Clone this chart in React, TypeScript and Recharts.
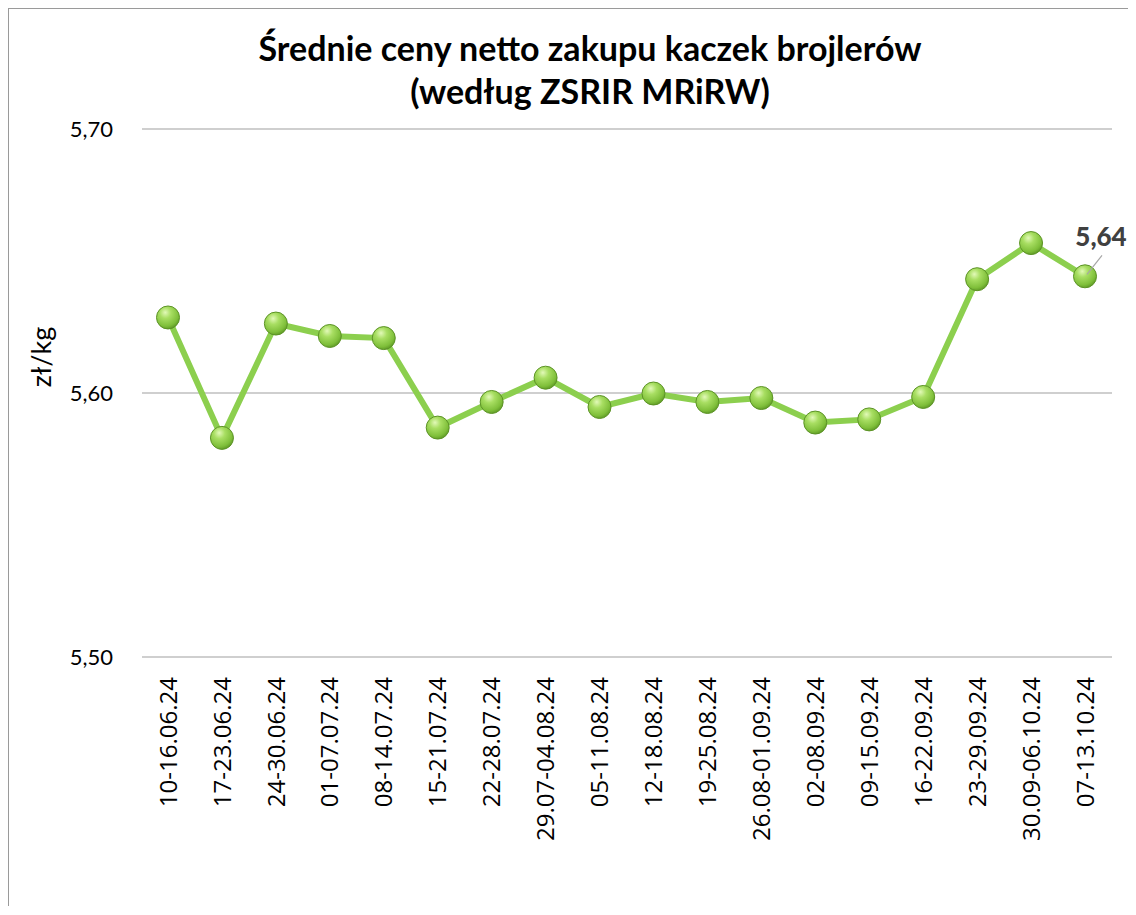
import React from 'react';
import { LineChart, Line, XAxis, YAxis, CartesianGrid } from 'recharts';

const weeks = [
  '10-16.06.24', '17-23.06.24', '24-30.06.24', '01-07.07.24', '08-14.07.24', '15-21.07.24',
  '22-28.07.24', '29.07-04.08.24', '05-11.08.24', '12-18.08.24', '19-25.08.24', '26.08-01.09.24',
  '02-08.09.24', '09-15.09.24', '16-22.09.24', '23-29.09.24', '30.09-06.10.24', '07-13.10.24',
];
const prices = [
  5.6286, 5.583, 5.6263, 5.6216, 5.6208, 5.5869, 5.5966, 5.6058, 5.5947,
  5.5998, 5.5966, 5.5981, 5.5888, 5.59, 5.5985, 5.6431, 5.6568, 5.6442,
];
const yTicks = [5.5, 5.6, 5.7];
const titleLines = ['Średnie ceny netto zakupu kaczek brojlerów', '(według ZSRIR MRiRW)'];
const unitLabel = 'zł/kg';

const data = weeks.map((w, i) => ({ week: w, price: prices[i] }));
const fmt = (v: number) => v.toFixed(2).replace('.', ',');

const XTick = (props: any) => {
  const { x, y, payload } = props;
  const ty = y + 12;
  return (
    <text
      x={x}
      y={ty}
      transform={`rotate(-90, ${x}, ${ty})`}
      textAnchor="end"
      dy="0.36em"
      fontFamily="'Open Sans', sans-serif"
      fontSize={24}
      fill="#000"
    >
      {payload.value}
    </text>
  );
};

const Dot = (props: any) => {
  const { cx, cy, index } = props;
  if (cx == null || cy == null) return null;
  const id = `dg${index}`;
  return (
    <g key={id}>
      <defs>
        <radialGradient id={id} cx="40%" cy="32%" r="70%" fx="38%" fy="28%">
          <stop offset="0%" stopColor="#e2f9b8" />
          <stop offset="35%" stopColor="#a8de62" />
          <stop offset="80%" stopColor="#7fbf3a" />
          <stop offset="100%" stopColor="#5f9a26" />
        </radialGradient>
      </defs>
      <circle cx={cx} cy={cy} r={11.5} fill={`url(#${id})`} stroke="#5c9326" strokeWidth={1} />
    </g>
  );
};

const LastLabel = (props: any) => {
  const { x, y, index, value } = props;
  if (index !== prices.length - 1) return null;
  return (
    <g>
      <line x1={x + 17} y1={y - 21} x2={x + 2} y2={y - 2} stroke="#a6a6a6" strokeWidth={1.2} />
      <text
        x={x + 16}
        y={y - 30}
        textAnchor="middle"
        fontFamily="Lato, sans-serif"
        fontWeight={900}
        fontSize={26}
        fill="#404040"
      >
        {fmt(value)}
      </text>
    </g>
  );
};

const YLabel = (props: any) => {
  const vb = props.viewBox || {};
  const x = vb.x - 40;
  const y = vb.y + vb.height / 2 - 36;
  return (
    <text
      x={x}
      y={y}
      transform={`rotate(-90, ${x}, ${y})`}
      textAnchor="middle"
      dy="0.35em"
      fontFamily="Lato, sans-serif"
      fontWeight={400}
      fontSize={27}
      fill="#000"
    >
      {unitLabel}
    </text>
  );
};

export default function App() {
  return (
    <div
      style={{
        position: 'relative',
        width: 1129,
        height: 899,
        marginLeft: -1,
        marginTop: -1,
        borderLeft: '2px solid #9a9a9a',
        borderTop: '2px solid #9a9a9a',
        boxSizing: 'border-box',
        overflow: 'hidden',
        background: '#fff',
      }}
    >
      <LineChart
        width={1127}
        height={897}
        data={data}
        margin={{ top: 120, right: 24, bottom: 49, left: 73 }}
      >
        <CartesianGrid vertical={false} stroke="#bfbfbf" strokeWidth={1.3} />
        <XAxis
          dataKey="week"
          axisLine={false}
          tickLine={false}
          interval={0}
          height={200}
          padding={{ left: 26, right: 27 }}
          tick={<XTick />}
        />
        <YAxis
          domain={[5.5, 5.7]}
          ticks={yTicks}
          width={60}
          axisLine={false}
          tickLine={false}
          tickSize={6}
          tickMargin={23}
          tickFormatter={fmt}
          tick={{ fontFamily: 'Lato, sans-serif', fontSize: 22, fill: '#000' }}
          label={<YLabel />}
        />
        <Line
          type="linear"
          dataKey="price"
          stroke="#8ccf4e"
          strokeWidth={6}
          dot={<Dot />}
          activeDot={false}
          isAnimationActive={false}
          label={<LastLabel />}
        />
      </LineChart>
      <svg
        width={1127}
        height={130}
        style={{ position: 'absolute', left: 0, top: 0, pointerEvents: 'none' }}
      >
        {titleLines.map((t, i) => (
          <text
            key={i}
            x={581}
            y={52 + i * 43}
            textAnchor="middle"
            fontFamily="Lato, sans-serif"
            fontWeight="bold"
            fontSize={34}
            fill="#000"
          >
            {t}
          </text>
        ))}
      </svg>
    </div>
  );
}
